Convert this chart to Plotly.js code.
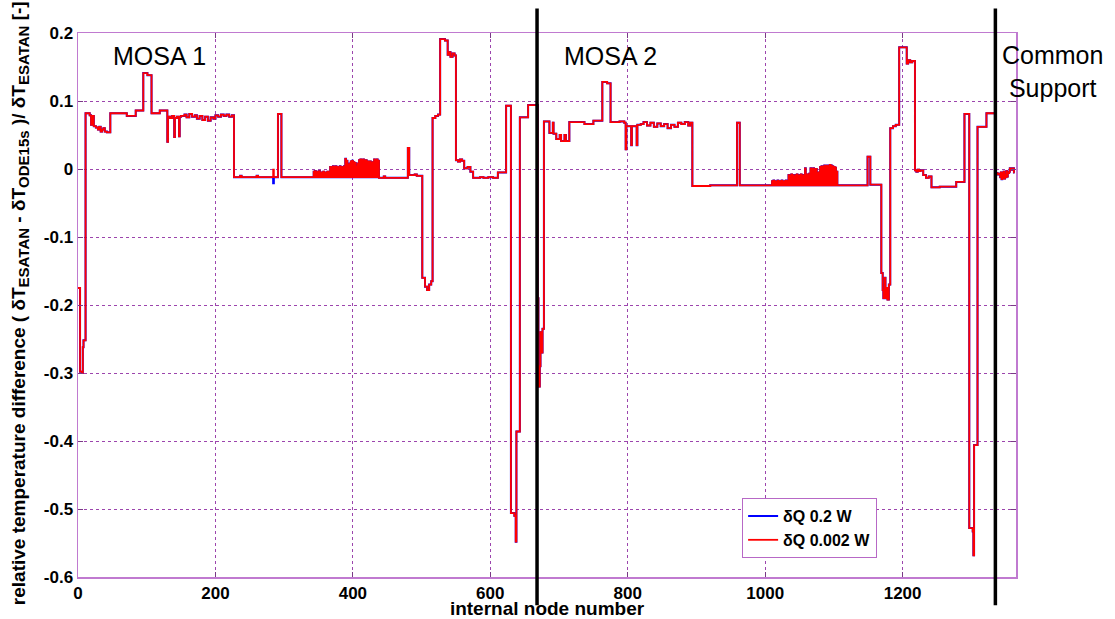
<!DOCTYPE html>
<html>
<head>
<meta charset="utf-8">
<script src="https://cdn.plot.ly/plotly-3.0.1.min.js"></script>
<style>html,body{margin:0;padding:0;background:#fff;}#chart{width:1115px;height:619px;}</style>
</head>
<body>
<div id="chart"></div>
<script>
// ---- data (step values per internal node) ----
// MOSA 1 first part: segment start node and value
const segANodes = [0,3,6,7,8,11,17,19,21,23,26,29,31,33,35,37,39,42,47,71,84,95,101,107,119,130,131,134,137,140,141,144,147,148,150,155,158,162,166,170,173,177,181,185,189,193,197,200,204,208,212,216,220,224,227,236,238,260,262,284,285,291,296];
const segAVals  = [-0.175,-0.298,-0.30,-0.262,-0.252,0.082,0.079,0.065,0.078,0.063,0.061,0.058,0.062,0.055,0.058,0.060,0.055,0.054,0.082,0.078,0.086,0.141,0.138,0.082,0.086,0.040,0.077,0.075,0.078,0.047,0.075,0.077,0.048,0.077,0.078,0.080,0.076,0.081,0.077,0.079,0.074,0.078,0.072,0.077,0.071,0.076,0.074,0.079,0.077,0.080,0.078,0.080,0.077,0.079,-0.012,-0.010,-0.012,-0.010,-0.012,-0.001,-0.012,0.081,-0.012];

// MOSA 1 oscillating block, one value per node starting at node 342
const noise1Start = 342;
const noise1Vals = [
 -0.012,-0.004,-0.012,-0.003,-0.012,-0.005,-0.012,-0.004,-0.012,-0.003,
 -0.012,-0.006,-0.012,-0.005,-0.012,-0.004,-0.012,-0.006,-0.012,-0.005,-0.012,-0.004,-0.012,-0.005,
 -0.012,0.003,-0.012,0.002,-0.012,0.004,-0.012,0.003,
 -0.012,0.004,-0.012,0.003,-0.012,0.002,-0.012,0.004,-0.012,0.003,-0.012,0.002,-0.012,0.004,
 -0.012,0.015,-0.012,0.012,-0.012,0.006,-0.012,0.008,
 -0.012,0.011,-0.012,0.012,-0.012,0.010,-0.012,0.009,
 -0.012,0.004,-0.012,0.008,
 -0.012,0.013,-0.012,0.014,-0.012,0.013,-0.012,0.014,-0.012,0.012,-0.012,0.013,
 -0.012,0.011,-0.012,0.010,-0.012,0.011,-0.012,0.009,-0.012,0.010,
 -0.012,0.014,-0.012,0.013,-0.012,0.014,-0.012,0.012];

// end of MOSA 1 and MOSA 2 first part
const segBNodes = [438,445,447,480,482,490,493,501,505,508,511,514,516,520,524,527,534,538,540,542,545,548,550,553,556,559,562,567,571,575,585,590,597,604,611,623,630,635,637,638,643,655,669,670,672,673,675,676,678,686,691,692,696,701,703,708,710,715,737,750,763,770,775,788,795,797,798,805,806,813,814,819,823,828,833,838,843,848,853,858,863,868,873,878,883,888,891,894,920,959,963];
const segBVals  = [-0.013,-0.011,-0.013,0.031,-0.009,-0.008,-0.010,-0.160,-0.173,-0.178,-0.170,-0.165,0.075,0.078,0.080,0.191,0.189,0.168,0.172,0.165,0.170,0.167,0.013,0.011,0.014,0.012,0.001,0.003,-0.004,-0.013,-0.012,-0.013,-0.012,-0.013,-0.005,0.093,-0.506,-0.510,-0.548,-0.386,0.076,0.094,-0.190,-0.320,-0.290,-0.240,-0.270,-0.235,0.070,0.053,0.068,0.052,0.044,0.050,0.041,0.050,0.041,0.069,0.066,0.071,0.128,0.126,0.069,0.070,0.068,0.029,0.063,0.035,0.063,0.035,0.065,0.066,0.069,0.064,0.068,0.062,0.067,0.063,0.066,0.060,0.065,0.062,0.068,0.066,0.069,0.064,0.068,-0.025,-0.024,0.068,-0.024];

// MOSA 2 oscillating block, one value per node starting at node 1009
const noise2Start = 1009;
const noise2Vals = [
 -0.024,-0.018,-0.024,-0.017,-0.024,-0.018,-0.024,-0.019,-0.024,-0.017,-0.024,-0.018,-0.024,-0.018,-0.024,-0.017,-0.024,-0.019,-0.024,-0.018,-0.024,-0.017,-0.024,-0.018,
 -0.024,-0.009,-0.024,-0.010,-0.024,-0.008,-0.024,-0.009,-0.024,-0.011,-0.024,-0.009,-0.024,-0.008,-0.024,-0.010,-0.024,-0.009,-0.024,-0.008,-0.024,-0.010,-0.024,-0.009,
 -0.024,0.001,-0.024,-0.008,-0.024,-0.009,-0.024,-0.007,
 -0.024,0.001,-0.024,0.000,-0.024,0.001,-0.024,-0.001,-0.024,0.000,-0.024,-0.006,-0.024,-0.005,
 -0.024,0.003,-0.024,0.004,-0.024,0.003,-0.024,0.005,-0.024,0.004,-0.024,0.005,-0.024,0.004,
 -0.024,0.006,-0.024,0.005,-0.024,0.004,-0.024,0.003,-0.024,0.002,-0.024,-0.004,-0.024];

// rest of MOSA 2 and Common Support
const segCNodes = [1106,1149,1153,1169,1171,1172,1174,1175,1177,1178,1180,1182,1186,1190,1195,1206,1208,1211,1214,1218,1220,1222,1224,1226,1230,1234,1238,1242,1254,1278,1290,1297,1302,1303,1304,1309,1322,1335,1338,1340,1342,1343,1344,1345,1346,1347,1348,1349,1350,1351,1352,1353,1355,1356,1358,1360,1362,1363];
const segCVals  = [-0.024,0.018,-0.023,-0.153,-0.178,-0.190,-0.160,-0.190,-0.175,-0.192,-0.170,0.060,0.063,0.065,0.179,0.155,0.160,0.157,0.159,-0.002,-0.004,-0.001,-0.003,-0.002,-0.009,-0.013,-0.011,-0.027,-0.026,-0.019,0.081,-0.528,-0.533,-0.568,-0.406,0.062,0.082,-0.006,-0.008,-0.007,-0.012,-0.005,-0.015,-0.006,-0.013,-0.004,-0.014,-0.008,-0.012,-0.003,-0.011,-0.006,-0.004,0.001,-0.001,0.001,-0.005,-0.005];

// nodes where the 0.2 W run differs from the 0.002 W run
const blueDiffNodes = [284];
const blueDiffVals  = [-0.021];

// section borders and labels
const borderNodes = [668, 1335];
const sectionLabels = ['MOSA 1', 'MOSA 2', 'Common<br>Support'];
const seriesNames = ['\u03b4Q 0.2 W', '\u03b4Q 0.002 W'];
const xTitle = 'internal node number';

const xTickVals = [0,200,400,600,800,1000,1200];
const xTickText = ['0','200','400','600','800','1000','1200'];
const yTickVals = [0.2,0.1,0,-0.1,-0.2,-0.3,-0.4,-0.5,-0.6];
const yTickText = ['0.2','0.1','0','-0.1','-0.2','-0.3','-0.4','-0.5','-0.6'];

// ---- assemble ----
const xs = [], ys = [];
segANodes.forEach((n,i)=>{xs.push(n); ys.push(segAVals[i]);});
noise1Vals.forEach((v,i)=>{xs.push(noise1Start+i); ys.push(v);});
segBNodes.forEach((n,i)=>{xs.push(n); ys.push(segBVals[i]);});
noise2Vals.forEach((v,i)=>{xs.push(noise2Start+i); ys.push(v);});
segCNodes.forEach((n,i)=>{xs.push(n); ys.push(segCVals[i]);});

const xsBlue = [], ysBlue = [];
xs.forEach((n,i)=>{
  const k = blueDiffNodes.indexOf(n);
  xsBlue.push(n); ysBlue.push(k>=0 ? blueDiffVals[k] : ys[i]);
});

const FONT = 'Liberation Sans, Arial, sans-serif';
const grid = '#9c45ad';

const traces = [
  {x: xsBlue, y: ysBlue, name: seriesNames[0], mode:'lines', line:{shape:'hv', color:'#0000ff', width:2}},
  {x: xs, y: ys, name: seriesNames[1], mode:'lines', line:{shape:'hv', color:'#ff0000', width:1.8}}
];

const shapes = borderNodes.map(n=>({
  type:'line', xref:'x', yref:'paper', x0:n, x1:n, y0:-0.052, y1:1.045,
  line:{color:'#000', width:3.5}, layer:'above'
}));

const sub = t => '<sub><span style="font-size:15px">' + t + '</span></sub>';
const yTitle = 'relative temperature difference ( \u03b4T' + sub('ESATAN') + ' - \u03b4T' + sub('ODE15s') + ' )/ \u03b4T' + sub('ESATAN') + ' [-]';

const annotations = [
  {xref:'x', yref:'y', x:119, y:0.166, text:sectionLabels[0], showarrow:false, xanchor:'center', yanchor:'middle', font:{family:FONT, size:25, color:'#000'}},
  {xref:'x', yref:'y', x:775, y:0.166, text:sectionLabels[1], showarrow:false, xanchor:'center', yanchor:'middle', font:{family:FONT, size:25, color:'#000'}},
  {xref:'paper', yref:'paper', x:1.0394, y:0.930, text:sectionLabels[2], showarrow:false, xanchor:'center', yanchor:'middle', font:{family:FONT, size:25, color:'#000'}, align:'center'},
  {xref:'paper', yref:'paper', x:-0.0615, y:0.504, text:yTitle, textangle:-90, showarrow:false, xanchor:'center', yanchor:'middle', font:{family:FONT, size:19, color:'#000', weight:'bold'}}
];

const layout = {
  width:1115, height:619,
  margin:{l:78, r:99, t:33, b:42},
  paper_bgcolor:'#fff', plot_bgcolor:'#fff',
  showlegend:true,
  legend:{x:0.708, y:0.145, xanchor:'left', yanchor:'top', bgcolor:'#fff', bordercolor:'#b768c6', borderwidth:1,
          font:{family:FONT, size:16, color:'#000', weight:'bold'}, tracegroupgap:0},
  xaxis:{range:[0,1365], tickvals:xTickVals, ticktext:xTickText, showgrid:true, gridcolor:grid, griddash:'dot', gridwidth:1,
         zeroline:false, showline:true, linecolor:'#c07ad0', linewidth:1.5, mirror:'ticks', ticks:'inside', ticklen:5, tickcolor:'#7a3a86',
         tickfont:{family:FONT, size:17, color:'#000', weight:'bold'},
         title:{text:xTitle, font:{family:FONT, size:19, color:'#000', weight:'bold'}, standoff:0}},
  yaxis:{range:[-0.6,0.2], tickvals:yTickVals, ticktext:yTickText, showgrid:true, gridcolor:grid, griddash:'dot', gridwidth:1,
         zeroline:false, showline:true, linecolor:'#c07ad0', linewidth:1.5, mirror:'ticks', ticks:'inside', ticklen:5, tickcolor:'#7a3a86',
         tickfont:{family:FONT, size:17, color:'#000', weight:'bold'}},
  shapes: shapes,
  annotations: annotations
};

Plotly.newPlot('chart', traces, layout, {displayModeBar:false, staticPlot:true});
</script>
</body>
</html>
